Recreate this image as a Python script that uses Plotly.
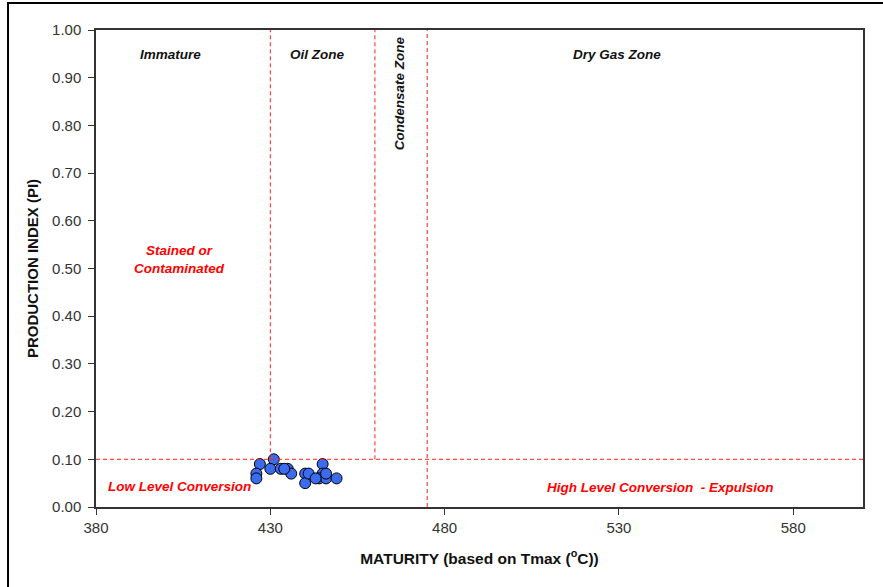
import plotly.graph_objects as go

# Data
tmax = [427, 426, 426, 431, 430, 433, 435, 436, 434,
        440, 440, 441, 445, 445, 444, 446, 449, 446, 443]
pi = [0.09, 0.07, 0.06, 0.10, 0.08, 0.08, 0.08, 0.07, 0.08,
      0.07, 0.05, 0.07, 0.09, 0.07, 0.06, 0.06, 0.06, 0.07, 0.06]

x_ticks = [380, 430, 480, 530, 580]
y_ticks = [0.0, 0.1, 0.2, 0.3, 0.4, 0.5, 0.6, 0.7, 0.8, 0.9, 1.0]

# Zone boundaries (Tmax) and PI threshold
oil_start = 430
cond_start = 460
gas_start = 475
pi_threshold = 0.1

FONT = "Liberation Sans, Arial, sans-serif"

fig = go.Figure()
fig.add_trace(go.Scatter(
    x=tmax, y=pi, mode="markers",
    marker=dict(size=11, color="#3B6BEF", line=dict(color="#000000", width=1)),
    showlegend=False,
))

red = "#FF2020"
dash = "4px,3px"
shapes = [
    dict(type="line", xref="x", yref="y", x0=oil_start, x1=oil_start, y0=pi_threshold, y1=1.0,
         line=dict(color=red, width=1, dash=dash)),
    dict(type="line", xref="x", yref="y", x0=cond_start, x1=cond_start, y0=pi_threshold, y1=1.0,
         line=dict(color=red, width=1, dash=dash)),
    dict(type="line", xref="x", yref="y", x0=gas_start, x1=gas_start, y0=0, y1=1.0,
         line=dict(color=red, width=1, dash=dash)),
    dict(type="line", xref="paper", yref="y", x0=0, x1=1, y0=pi_threshold, y1=pi_threshold,
         line=dict(color=red, width=1, dash=dash)),
    # outer frame
    dict(type="rect", xref="paper", yref="paper", x0=-0.1147, x1=1.2, y0=-0.3, y1=1.0566,
         line=dict(color="#000000", width=2), layer="below"),
]

ann_black = dict(color="#111111", size=13.5, family=FONT)
ann_red = dict(color="#FF0000", size=13.5, family=FONT)
annotations = [
    dict(x=401.3, y=0.948, text="<b><i>Immature</i></b>", font=ann_black),
    dict(x=443.5, y=0.948, text="<b><i>Oil Zone</i></b>", font=ann_black),
    dict(x=529.4, y=0.948, text="<b><i>Dry Gas Zone</i></b>", font=ann_black),
    dict(x=467.3, y=0.868, text="<b><i>Condensate Zone</i></b>", font=ann_black, textangle=-90),
    dict(x=403.9, y=0.518, text="<b><i>Stained or<br>Contaminated</i></b>", font=ann_red),
    dict(x=404.0, y=0.044, text="<b><i>Low Level Conversion</i></b>", font=ann_red),
    dict(x=542.0, y=0.040, text="<b><i>High Level Conversion  - Expulsion</i></b>", font=ann_red),
]
for a in annotations:
    a.update(xref="x", yref="y", showarrow=False)

fig.update_layout(
    width=883, height=587,
    margin=dict(l=96, r=20, t=30, b=80),
    paper_bgcolor="#FFFFFF", plot_bgcolor="#FFFFFF",
    shapes=shapes, annotations=annotations,
    font=dict(family=FONT, color="#333333"),
)
fig.update_xaxes(
    range=[380, 600], tickvals=x_ticks, ticks="outside", ticklen=6, tickcolor="#333333",
    showgrid=False, zeroline=False, showline=True, linecolor="#333333", linewidth=1.5, mirror=True,
    tickfont=dict(size=15, color="#333333", family=FONT),
    title=dict(text="<b>MATURITY (based on Tmax (<sup>o</sup>C))</b>",
               font=dict(size=15.5, color="#111111", family=FONT), standoff=18),
)
fig.update_yaxes(
    range=[0, 1.0], tickvals=y_ticks, tickformat=".2f", ticks="outside", ticklen=6, tickcolor="#333333",
    ticklabelstandoff=4,
    showgrid=False, zeroline=False, showline=True, linecolor="#333333", linewidth=1.5, mirror=True,
    tickfont=dict(size=15, color="#333333", family=FONT),
    title=dict(text="<b>PRODUCTION INDEX (PI)</b>",
               font=dict(size=15, color="#111111", family=FONT), standoff=10),
)

fig.write_html("out.html")
